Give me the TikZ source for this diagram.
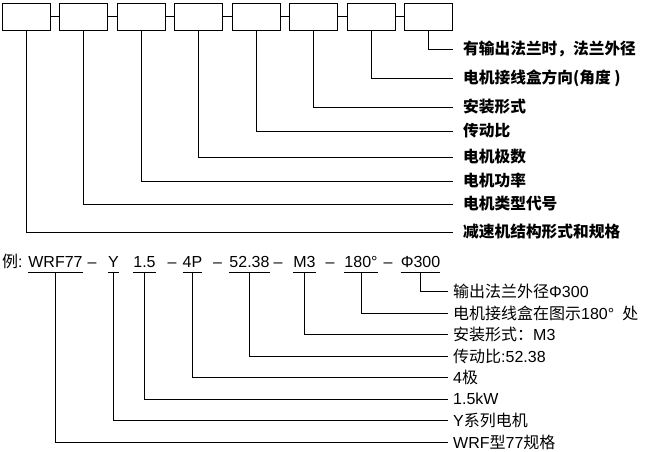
\documentclass[tikz,border=0pt]{standalone}
\usepackage{fontspec}
\setmainfont{Noto Sans CJK SC}
\newfontfamily\lat{Liberation Sans}

\begin{document}
\begin{tikzpicture}[x=1pt,y=-1pt,
		box/.style={draw,line width=1pt,minimum width=48pt,minimum height=27pt,inner sep=0pt},
		lead/.style={line width=0.7pt},
		toplab/.style={anchor=west,inner xsep=10pt,inner ysep=0pt,font=\fontsize{15.7}{18}\selectfont\bfseries},
		botlab/.style={anchor=west,inner xsep=5pt,inner ysep=0pt,font=\fontsize{16}{18}\selectfont},
		code/.style={anchor=base,inner sep=0pt,text depth=4.3pt,font=\fontsize{16}{18}\selectfont\lat}]
		\useasboundingbox (0,0) rectangle (650,451);
		%
		\node[box] (b1) at (26,16.6) {};
		\node[box] (b2) at (83,16.6) {};
		\node[box] (b3) at (141,16.6) {};
		\node[box] (b4) at (198,16.6) {};
		\node[box] (b5) at (256,16.6) {};
		\node[box] (b6) at (313,16.6) {};
		\node[box] (b7) at (371,16.6) {};
		\node[box] (b8) at (428,16.6) {};
		%
		\node[toplab] (t1) at (453,232) {减速机结构形式和规格};
		\node[toplab] (t2) at (453,204) {电机类型代号};
		\node[toplab] (t3) at (453,181) {电机功率};
		\node[toplab] (t4) at (453,157) {电机极数};
		\node[toplab] (t5) at (453,131) {传动比};
		\node[toplab] (t6) at (453,107) {安装形式};
		\node[toplab] (t7) at (453,78) {电机接线盒方向(角度 )};
		\node[toplab] (t8) at (453,49) {有输出法兰时，法兰外径};
		%
		\draw[line width=1pt] (b1) -- (b2) (b2) -- (b3) (b3) -- (b4) (b4) -- (b5)
			(b5) -- (b6) (b6) -- (b7) (b7) -- (b8);
		\draw[lead] (b1.south) |- (t1.west);
		\draw[lead] (b2.south) |- (t2.west);
		\draw[lead] (b3.south) |- (t3.west);
		\draw[lead] (b4.south) |- (t4.west);
		\draw[lead] (b5.south) |- (t5.west);
		\draw[lead] (b6.south) |- (t6.west);
		\draw[lead] (b7.south) |- (t7.west);
		\draw[lead] (b8.south) |- (t8.west);
		%
		\node[anchor=base west,inner sep=0pt,font=\fontsize{16}{18}\selectfont] (ex) at (2,267.7) {例{\lat :}};
		\node[code] (c1) at (55.5,267.7) {WRF77};
		\node[code] (d1) at (92,267.7) {–};
		\node[code] (c2) at (113.5,267.7) {Y};
		\node[code] (c3) at (144.5,267.7) {1.5};
		\node[code] (d2) at (172,267.7) {–};
		\node[code] (c4) at (192.5,267.7) {4P};
		\node[code] (d3) at (217.5,267.7) {–};
		\node[code] (c5) at (249.5,267.7) {52.38};
		\node[code] (d4) at (278,267.7) {–};
		\node[code] (c6) at (304.5,267.7) {M3};
		\node[code] (d5) at (330,267.7) {–};
		\node[code] (c7) at (361,267.7) {180°};
		\node[code] (d6) at (388,267.7) {–};
		\node[code] (c8) at (420.5,267.7) {Φ300};
		%
		\node[botlab] (e1) at (448,442) {{\lat WRF}型{\lat 77}规格};
		\node[botlab] (e2) at (448,420) {{\lat Y}系列电机};
		\node[botlab] (e3) at (448,399) {{\lat 1.5kW}};
		\node[botlab] (e4) at (448,377) {{\lat 4}极};
		\node[botlab] (e5) at (448,356) {传动比{\lat :52.38}};
		\node[botlab] (e6) at (448,334) {安装形式：{\lat M3}};
		\node[botlab] (e7) at (448,313) {电机接线盒在图示{\lat 180°}\hspace{8pt}处};
		\node[botlab] (e8) at (448,291) {输出法兰外径{\lat Φ300}};
		%
		\draw[lead] (c1.south west) -- (c1.south east) (c2.south west) -- (c2.south east)
			(c3.south west) -- (c3.south east) (c4.south west) -- (c4.south east)
			(c5.south west) -- (c5.south east) (c6.south west) -- (c6.south east)
			(c7.south west) -- (c7.south east) (c8.south west) -- (c8.south east);
		\draw[lead] (c1.south) |- (e1.west);
		\draw[lead] (c2.south) |- (e2.west);
		\draw[lead] (c3.south) |- (e3.west);
		\draw[lead] (c4.south) |- (e4.west);
		\draw[lead] (c5.south) |- (e5.west);
		\draw[lead] (c6.south) |- (e6.west);
		\draw[lead] (c7.south) |- (e7.west);
		\draw[lead] (c8.south) |- (e8.west);
	\end{tikzpicture}
\end{document}
